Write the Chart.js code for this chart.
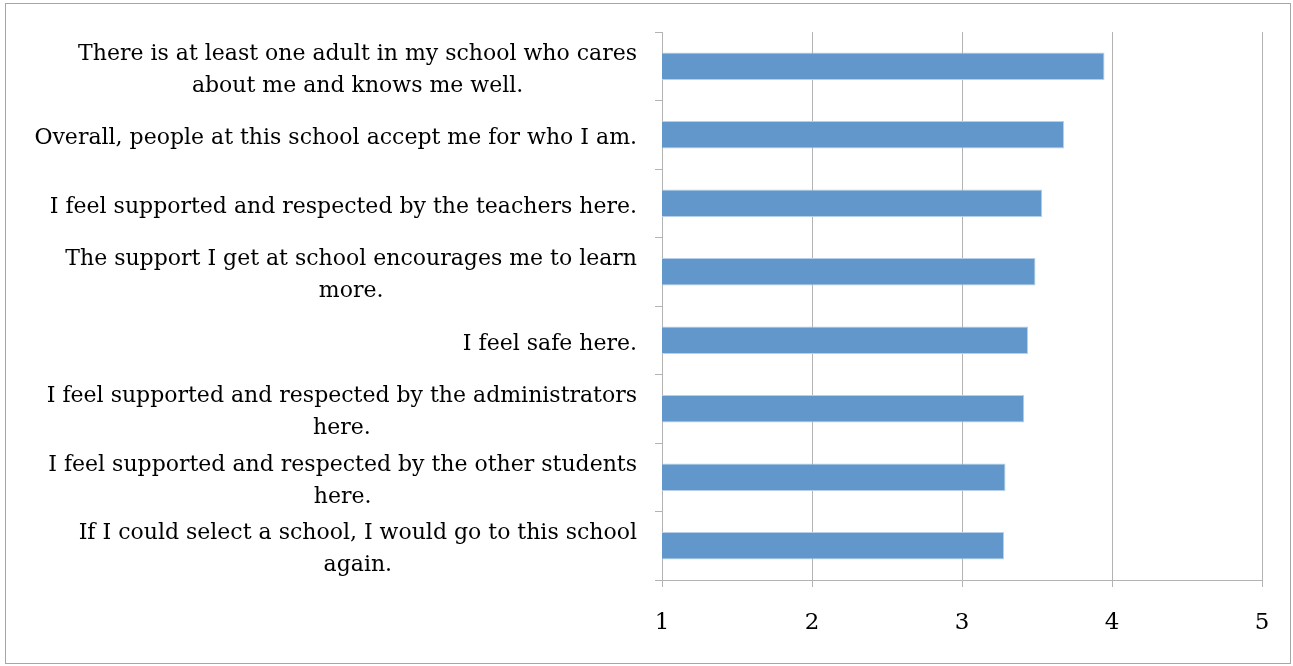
<!DOCTYPE html>
<html>
<head>
<meta charset="utf-8">
<script src="https://cdn.jsdelivr.net/npm/chart.js@4"></script>
<style>
  body { margin: 0; background: #fff; }
  .frame {
    position: absolute; left: 5px; top: 3px;
    width: 1284px; height: 659px;
    border: 1px solid #a6a6a6;
  }
  .chartWrapper { position: absolute; left: 0; top: 0; width: 1293px; height: 666px; }
</style>
</head>
<body>
<div class="frame"></div>
<div class="chartWrapper"><canvas id="schoolChart"></canvas></div>
<script>
// survey statements, each split into the lines they are printed on
const statements = [
  ['There is at least one adult in my school who cares', 'about me and knows me well.'],
  ['Overall, people at this school accept me for who I am.'],
  ['I feel supported and respected by the teachers here.'],
  ['The support I get at school encourages me to learn', 'more.'],
  ['I feel safe here.'],
  ['I feel supported and respected by the administrators', 'here.'],
  ['I feel supported and respected by the other students', 'here.'],
  ['If I could select a school, I would go to this school', 'again.'],
];
const averages = [3.95, 3.68, 3.535, 3.49, 3.44, 3.415, 3.29, 3.28];
const xTicks = [1, 2, 3, 4, 5];

const serif = '"DejaVu Serif", "Liberation Serif", serif';
const gridGray = '#b3b3b3';

// draws the statement labels: block right aligned, lines centred inside it
const statementLabels = {
  id: 'statementLabels',
  afterDraw(chart) {
    const { ctx } = chart;
    const yScale = chart.scales.y;
    const right = 637;
    const lineH = 32;
    ctx.save();
    ctx.font = '22px ' + serif;
    ctx.fillStyle = '#000';
    ctx.textAlign = 'center';
    ctx.textBaseline = 'middle';
    statements.forEach((lines, i) => {
      const yc = yScale.getPixelForTick(i) + 4;
      const w = Math.max(...lines.map((l) => ctx.measureText(l).width));
      const cx = right - w / 2;
      lines.forEach((l, k) => {
        ctx.fillText(l, cx, yc + (k - (lines.length - 1) / 2) * lineH);
      });
    });
    ctx.restore();
  },
};

const ctx = document.getElementById('schoolChart');

new Chart(ctx, {
  type: 'bar',
  data: {
    labels: statements.map((s) => s.join(' ')),
    datasets: [
      {
        data: averages,
        backgroundColor: '#6197ca',
        borderColor: '#b7cfe8',
        borderWidth: 1,
        borderSkipped: 'start',
        categoryPercentage: 1,
        barPercentage: 0.4,
      },
    ],
  },
  options: {
    indexAxis: 'y',
    responsive: true,
    maintainAspectRatio: false,
    animation: false,
    layout: { padding: { top: 32, right: 31, bottom: 0, left: 0 } },
    plugins: { legend: { display: false }, tooltip: { enabled: false } },
    scales: {
      x: {
        min: 1,
        max: 5,
        afterBuildTicks: (scale) => {
          scale.ticks = xTicks.map((v) => ({ value: v }));
        },
        afterFit: (scale) => {
          scale.height = 86;
        },
        grid: { color: gridGray, tickLength: 7, lineWidth: 1 },
        border: { color: gridGray },
        ticks: {
          color: '#000',
          padding: 22,
          maxRotation: 0,
          font: { family: serif, size: 23 },
        },
      },
      y: {
        offset: true,
        afterFit: (scale) => {
          scale.width = 662;
        },
        grid: { drawOnChartArea: false, color: gridGray, tickLength: 7, offset: true },
        border: { color: gridGray },
        ticks: { display: false },
      },
    },
  },
  plugins: [statementLabels],
});
</script>
</body>
</html>
